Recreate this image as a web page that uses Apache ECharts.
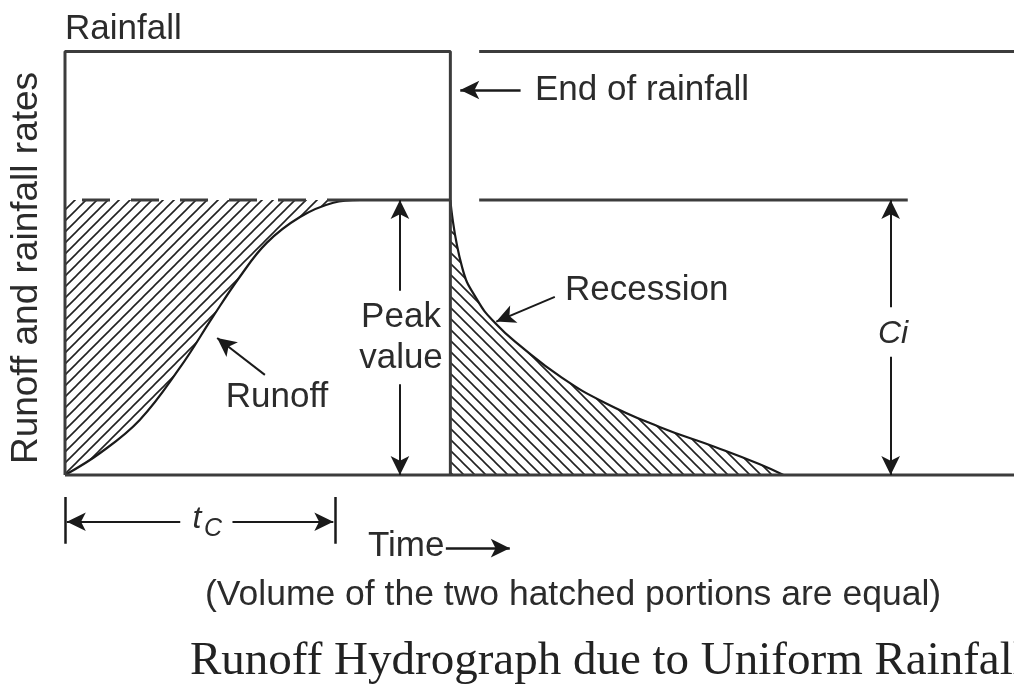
<!DOCTYPE html>
<html>
<head>
<meta charset="utf-8">
<script src="https://cdn.jsdelivr.net/npm/echarts@6/dist/echarts.min.js"></script>
<style>
  html, body { margin: 0; padding: 0; background: #fff; }
  #main { width: 1014px; height: 688px; }
</style>
</head>
<body>
<div id="main"></div>
<script>
  // time axis in minutes, rate axis in mm/h
  var rainIntensity = 77
  var peakRate = 50
  var rainEnd = 42.8
  var tc = 30
  var axisEnd = 105.4

  // rising limb of runoff
  var runoffT = [0, 3.9, 8.3, 12.8, 16.4, 19.4, 22.4, 26.1, 29.8, 32.8]
  var runoffQ = [0, 4.0, 10.0, 19.6, 28.7, 36.0, 42.2, 46.9, 49.5, 50]

  // recession after end of rainfall
  var recT = [42.8, 44.1, 45.8, 47.8, 50.7, 55.1, 60.0, 66.1, 72.2, 77.1, 79.8]
  var recQ = [50, 37.8, 31.8, 27.6, 23.3, 17.8, 13.1, 8.7, 5.1, 2.0, 0]

  var lineColor = '#3c3c3c'
  var textColor = '#2b2b2b'
  var sans = '"Liberation Sans", Arial, sans-serif'

  function hatch(dir, s) {
    var c = document.createElement('canvas')
    c.width = s
    c.height = s
    var ctx = c.getContext('2d')
    ctx.strokeStyle = '#222'
    ctx.lineWidth = 1.6
    ctx.beginPath()
    if (dir === '/') {
      ctx.moveTo(0, s); ctx.lineTo(s, 0)
      ctx.moveTo(-s / 2, s / 2); ctx.lineTo(s / 2, -s / 2)
      ctx.moveTo(s / 2, s * 1.5); ctx.lineTo(s * 1.5, s / 2)
    } else {
      ctx.moveTo(0, 0); ctx.lineTo(s, s)
      ctx.moveTo(-s / 2, s / 2); ctx.lineTo(s / 2, s * 1.5)
      ctx.moveTo(s / 2, -s / 2); ctx.lineTo(s * 1.5, s / 2)
    }
    ctx.stroke()
    return { image: c, repeat: 'repeat' }
  }

  function pairs(xs, ys) {
    return xs.map(function (x, i) { return [x, ys[i]] })
  }

  function seg(a, b, sym, w) {
    return [
      { coord: a, symbol: sym[0] },
      { coord: b, symbol: sym[1], lineStyle: { width: w || 2 } }
    ]
  }

  function label(text, x, y, opts) {
    opts = opts || {}
    return {
      type: 'text', x: x, y: y, z: 100, silent: true,
      rotation: opts.rotation || 0,
      style: {
        text: text,
        font: opts.font || ('35px ' + sans),
        fill: opts.fill || textColor,
        textAlign: opts.align || 'left',
        textVerticalAlign: 'middle'
      }
    }
  }

  var chart = echarts.init(document.getElementById('main'))

  var plain = { type: 'line', showSymbol: false, silent: true, animation: false }
  // hatch box stops a little short of where runoff meets the peak, so no seam shows
  var hatchEnd = runoffT[runoffT.length - 1] - 0.8

  var option = {
    backgroundColor: '#fff',
    animation: false,
    grid: { left: 65, right: 0, top: 35, bottom: 103 },
    xAxis: { type: 'value', min: 0, max: axisEnd, show: false },
    yAxis: { type: 'value', min: -20, max: 80, show: false },
    series: [
      {
        // hatched box under the rainfall rate; the runoff area paints over its lower part
        type: 'custom',
        silent: true,
        animation: false,
        data: [[0, 0, hatchEnd, peakRate]],
        renderItem: function (params, api) {
          var p0 = api.coord([api.value(0), api.value(1)])
          var p1 = api.coord([api.value(2), api.value(3)])
          return {
            type: 'rect',
            shape: { x: p0[0], y: p1[1], width: p1[0] - p0[0], height: p0[1] - p1[1] },
            style: { fill: hatch('/', 11) }
          }
        }
      },
      Object.assign({}, plain, {
        name: 'runoff',
        data: pairs(runoffT, runoffQ),
        smooth: 0.4,
        lineStyle: { color: '#1a1a1a', width: 2.2 },
        areaStyle: { color: '#fff', opacity: 1 }
      }),
      Object.assign({}, plain, {
        name: 'recession',
        data: pairs(recT, recQ),
        smooth: 0.5,
        lineStyle: { color: '#1a1a1a', width: 2.2 },
        areaStyle: { color: hatch('\\', 11), opacity: 1 }
      }),
      Object.assign({}, plain, {
        name: 'rainfall',
        data: [[0, 0], [0, rainIntensity], [rainEnd, rainIntensity], [rainEnd, 0]],
        lineStyle: { color: lineColor, width: 3 }
      }),
      Object.assign({}, plain, {
        name: 'baseline',
        data: [[0, 0], [axisEnd, 0]],
        lineStyle: { color: lineColor, width: 3 }
      }),
      Object.assign({}, plain, {
        name: 'rain after',
        data: [[46, rainIntensity], [axisEnd, rainIntensity]],
        lineStyle: { color: lineColor, width: 3 }
      }),
      Object.assign({}, plain, {
        name: 'peak after',
        data: [[46, peakRate], [93.6, peakRate]],
        lineStyle: { color: lineColor, width: 3 }
      }),
      Object.assign({}, plain, {
        name: 'peak dashed',
        data: [[0, peakRate], [32.2, peakRate]],
        lineStyle: { color: lineColor, width: 3, type: [28, 21], dashOffset: 32 }
      }),
      Object.assign({}, plain, {
        name: 'peak solid',
        data: [[32.2, peakRate], [rainEnd, peakRate]],
        lineStyle: { color: lineColor, width: 3 },
        markLine: {
          silent: true,
          animation: false,
          symbolSize: [14, 19],
          label: { show: false },
          lineStyle: { color: '#1a1a1a', type: 'solid', width: 2 },
          data: [
            // peak value
            seg([37.2, 33.5], [37.2, peakRate], ['none', 'arrow']),
            seg([37.2, 16.5], [37.2, 0], ['none', 'arrow']),
            // Ci
            seg([91.7, 30.5], [91.7, peakRate], ['none', 'arrow']),
            seg([91.7, 21.5], [91.7, 0], ['none', 'arrow']),
            // end of rainfall
            seg([50.6, 70], [43.9, 70], ['none', 'arrow'], 2.5),
            // runoff pointer
            seg([22.2, 18.2], [16.9, 24.9], ['none', 'arrow']),
            // recession pointer
            seg([54.4, 32.4], [47.9, 27.9], ['none', 'arrow']),
            // tc dimension
            seg([12.8, -8.5], [0.2, -8.5], ['none', 'arrow']),
            seg([18.6, -8.5], [tc - 0.2, -8.5], ['none', 'arrow']),
            seg([0, -4], [0, -12.5], ['none', 'none'], 2.5),
            seg([tc, -4], [tc, -12.5], ['none', 'none'], 2.5),
            // time arrow
            seg([42.3, -13.3], [49.4, -13.3], ['none', 'arrow'], 2.5)
          ]
        }
      })
    ],
    graphic: [
      label('Rainfall', 65, 29),
      label('Runoff and rainfall rates', 27, 268, { rotation: Math.PI / 2, align: 'center', font: '37px ' + sans }),
      label('End of rainfall', 535, 90),
      label('Recession', 565, 290),
      label('Peak', 401, 317, { align: 'center' }),
      label('value', 401, 358, { align: 'center' }),
      label('Runoff', 277, 397, { align: 'center' }),
      label('Ci', 893, 334, { align: 'center', font: 'italic 32px ' + sans }),
      label('t', 197, 519, { align: 'center', font: 'italic 32px ' + sans }),
      label('C', 213, 529, { align: 'center', font: 'italic 25px ' + sans }),
      label('Time', 368, 546),
      label('(Volume of the two hatched portions are equal)', 205, 595, { font: '35.5px ' + sans }),
      label('Runoff Hydrograph due to Uniform Rainfall', 190, 662,
        { font: '47px "Liberation Serif", "Times New Roman", serif', fill: '#222' })
    ]
  }

  chart.setOption(option)
</script>
</body>
</html>
